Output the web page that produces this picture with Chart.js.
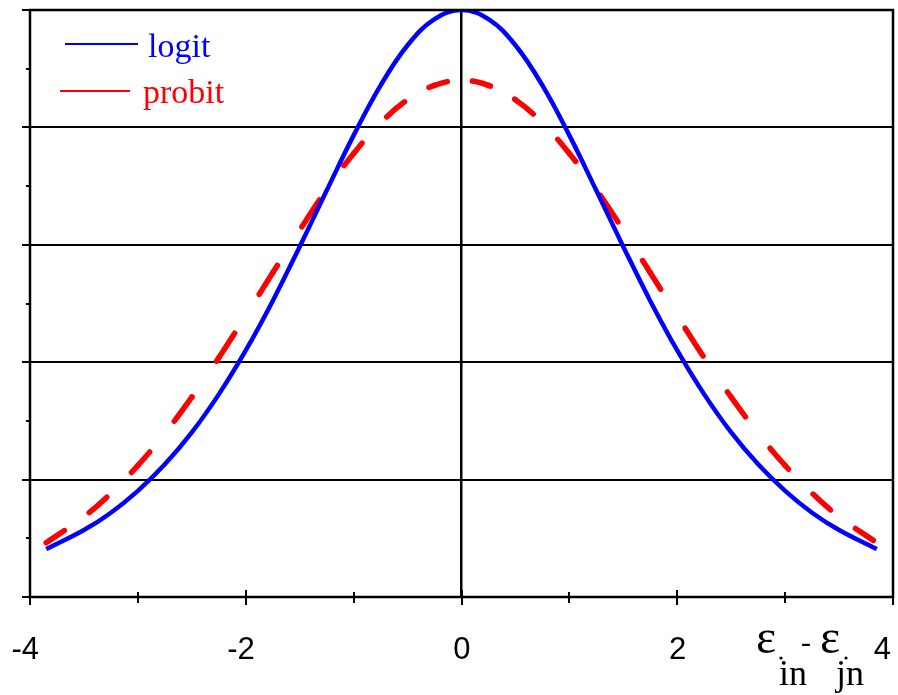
<!DOCTYPE html>
<html>
<head>
<meta charset="utf-8">
<style>
  html, body { margin: 0; padding: 0; background: #fff; }
  #wrap { width: 898px; height: 695px; }
</style>
<script src="https://cdn.jsdelivr.net/npm/chart.js@4"></script>
</head>
<body>
<div id="wrap"><canvas id="c" width="898" height="695"></canvas></div>
<script>
// values
var xValues = [-3.85, -3.5, -3.25, -3, -2.75, -2.5, -2.25, -2, -1.75, -1.5, -1.25, -1, -0.75, -0.5, -0.25, 0,
               0.25, 0.5, 0.75, 1, 1.25, 1.5, 1.75, 2, 2.25, 2.5, 2.75, 3, 3.25, 3.5, 3.85];
var logitValues = [0.0204, 0.0285, 0.0359, 0.0452, 0.0565, 0.0701, 0.0863, 0.1050, 0.1261, 0.1492, 0.1731, 0.1966, 0.2179, 0.2350, 0.2461, 0.2500,
                   0.2461, 0.2350, 0.2179, 0.1966, 0.1731, 0.1492, 0.1261, 0.1050, 0.0863, 0.0701, 0.0565, 0.0452, 0.0359, 0.0285, 0.0204];
var probitValues = [0.0231, 0.0342, 0.0442, 0.0560, 0.0697, 0.0851, 0.1019, 0.1198, 0.1381, 0.1562, 0.1735, 0.1889, 0.2019, 0.2118, 0.2179, 0.2200,
                    0.2179, 0.2118, 0.2019, 0.1889, 0.1735, 0.1562, 0.1381, 0.1198, 0.1019, 0.0851, 0.0697, 0.0560, 0.0442, 0.0342, 0.0231];
var xTickValues = [-4, -2, 0, 2, 4];
var xTickLabels = ['-4', '-2', '0', '2', '4'];
var seriesNames = ['logit', 'probit'];

function pairs(ys) {
  return xValues.map(function(x, i) { return { x: x, y: ys[i] }; });
}

var SERIF = '"Liberation Serif", "Times New Roman", serif';

// probit dashes are evenly spaced along x, not along the path,
// so stretch the pattern per segment by its slope
var DASH = 18, GAP = 24.6, PERIOD = DASH + GAP;
function segStretch(c) {
  var dx = c.p1.x - c.p0.x, dy = c.p1.y - c.p0.y;
  return dx > 0 ? Math.sqrt(dx * dx + dy * dy) / dx : 1;
}
function segPhase(c) {
  var start = c.chart.scales.x.getPixelForValue(xValues[0]);
  return (c.p0.x - start) % PERIOD;
}

var framePlugin = {
  id: 'frame',
  afterDatasetsDraw: function(chart) {
    var ctx = chart.ctx, a = chart.chartArea;
    var xs = chart.scales.x, ys = chart.scales.y;
    ctx.save();
    ctx.strokeStyle = '#000';
    ctx.lineWidth = 2.5;
    ctx.strokeRect(a.left, a.top, a.right - a.left, a.bottom - a.top);

    // x ticks, crossing the bottom axis
    ctx.lineWidth = 2;
    for (var v = -4; v <= 4; v++) {
      var px = Math.round(xs.getPixelForValue(v));
      var major = v % 2 === 0;
      ctx.beginPath();
      ctx.moveTo(px, a.bottom - (major ? 7 : 5));
      ctx.lineTo(px, a.bottom + (major ? 8 : 6));
      ctx.stroke();
    }
    // y ticks, outside on the left
    for (var k = 0; k <= 10; k++) {
      var py = Math.round(ys.getPixelForValue(k * 0.025));
      var big = k % 2 === 0;
      ctx.beginPath();
      ctx.moveTo(a.left - (big ? 8 : 4), py);
      ctx.lineTo(a.left, py);
      ctx.stroke();
    }

    // x tick labels: digit centred on the tick
    ctx.fillStyle = '#000';
    ctx.font = '31px "Liberation Sans", Arial, sans-serif';
    ctx.textBaseline = 'alphabetic';
    xTickValues.forEach(function(v, i) {
      var px = xs.getPixelForValue(v);
      ctx.textAlign = 'right';
      var x = px + 9;
      if (i === xTickValues.length - 1) x = a.right - 2;
      ctx.fillText(xTickLabels[i], x, 659);
    });

    // axis title: e_in - e_jn
    ctx.textAlign = 'left';
    ctx.font = '48px ' + SERIF;
    ctx.fillText('\u03b5', 756, 653);
    ctx.fillText('\u03b5', 820, 653);
    ctx.font = '30px ' + SERIF;
    ctx.fillText('-', 801, 652);
    ctx.beginPath();
    ctx.arc(781, 658, 1.6, 0, Math.PI * 2);
    ctx.arc(846, 658, 1.6, 0, Math.PI * 2);
    ctx.fill();
    ctx.font = '36px ' + SERIF;
    ctx.fillText('in', 779, 685);
    ctx.fillText('jn', 836, 685);

    // legend
    var legend = [
      { color: '#0000ff', x1: 65, x2: 138, y: 44, tx: 148, ty: 57 },
      { color: '#ff0000', x1: 60, x2: 130, y: 91, tx: 143, ty: 103 }
    ];
    ctx.font = '34px ' + SERIF;
    legend.forEach(function(l, i) {
      ctx.strokeStyle = l.color;
      ctx.lineWidth = 2;
      ctx.beginPath();
      ctx.moveTo(l.x1, l.y);
      ctx.lineTo(l.x2, l.y);
      ctx.stroke();
      ctx.fillStyle = l.color;
      ctx.fillText(seriesNames[i], l.tx, l.ty);
    });
    ctx.restore();
  }
};

new Chart(document.getElementById('c'), {
  type: 'line',
  data: {
    datasets: [
      { label: seriesNames[0], data: pairs(logitValues), borderColor: '#0000ff', borderWidth: 4.5,
        pointRadius: 0, tension: 0.4, fill: false },
      { label: seriesNames[1], data: pairs(probitValues), borderColor: '#ff0000', borderWidth: 5.5,
        borderCapStyle: 'round', pointRadius: 0, tension: 0.4, fill: false,
        segment: {
          borderDash: function(c) { var s = segStretch(c); return [DASH * s, GAP * s]; },
          borderDashOffset: function(c) { return segPhase(c) * segStretch(c); }
        } }
    ]
  },
  options: {
    responsive: false, animation: false, devicePixelRatio: 1,
    layout: { padding: { left: 30, right: 5, top: 10, bottom: 98 } },
    plugins: { legend: { display: false }, tooltip: { enabled: false } },
    scales: {
      x: {
        type: 'linear', min: -4, max: 4,
        ticks: { display: false, stepSize: 1 },
        border: { display: false },
        grid: { drawTicks: false, lineWidth: 2.5,
          color: function(c) { return c.tick && c.tick.value === 0 ? '#000' : 'rgba(0,0,0,0)'; } }
      },
      y: {
        min: 0, max: 0.25,
        ticks: { display: false, stepSize: 0.05 },
        border: { display: false },
        grid: { drawTicks: false, lineWidth: 2, color: '#000' }
      }
    }
  },
  plugins: [framePlugin]
});
</script>
</body>
</html>
